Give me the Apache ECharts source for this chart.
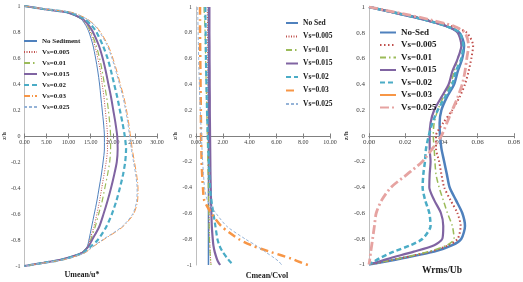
<!DOCTYPE html>
<html><head><meta charset="utf-8">
<script src="https://cdn.jsdelivr.net/npm/echarts@6/dist/echarts.min.js"></script>
<style>html,body{margin:0;padding:0;background:#fff}#c{width:523px;height:282px}</style>
</head><body><div id="c"></div>
<script>
// ---------- DATA ----------
const zLevels = [1, 0.975, 0.95, 0.9, 0.85, 0.8, 0.7, 0.6, 0.5, 0.4, 0.3, 0.2, 0.1, 0, -0.1, -0.2, -0.3, -0.4, -0.5, -0.6, -0.7, -0.8, -0.85, -0.9, -0.95, -0.975, -1];
const yTickLabels = ['-1','-0.8','-0.6','-0.4','-0.2','0','0.2','0.4','0.6','0.8','1'];

// Panel 1: Umean/u*
const p1Names = ['No Sediment','Vs=0.005','Vs=0.01','Vs=0.015','Vs=0.02','Vs=0.03','Vs=0.025'];
const p1Ticks = ['0.00','5.00','10.00','15.00','20.00','25.00','30.00'];
const p1NoSed = [0, 4.5, 9.5, 12.8, 13.9, 14.6, 15.5, 16.1, 16.6, 17.0, 17.3, 17.6, 17.9, 18.1, 18.1, 17.8, 17.4, 16.9, 16.4, 15.8, 15.2, 14.6, 14.2, 12.8, 8.3, 4.3, 0];
const p1Vs005 = [0, 4.5, 9.6, 12.9, 14.1, 14.9, 15.9, 16.6, 17.2, 17.6, 18.0, 18.3, 18.6, 18.8, 18.8, 18.5, 18.0, 17.5, 17.0, 16.4, 15.7, 14.8, 14.3, 12.8, 8.3, 4.3, 0];
const p1Vs01  = [0, 4.5, 9.7, 13.0, 14.3, 15.1, 16.2, 17.0, 17.6, 18.1, 18.6, 19.0, 19.3, 19.5, 19.5, 19.3, 18.8, 18.2, 17.6, 16.8, 16.0, 15.0, 14.4, 12.9, 8.3, 4.3, 0];
const p1Vs015 = [0, 4.6, 9.8, 13.2, 14.6, 15.5, 16.8, 17.7, 18.4, 19.0, 19.6, 20.1, 20.6, 21.0, 21.1, 20.9, 20.3, 19.6, 18.8, 17.9, 16.9, 15.3, 14.5, 13.0, 8.4, 4.3, 0];
const p1Vs02  = [0, 4.7, 10.2, 13.6, 15.2, 16.3, 17.7, 18.8, 19.6, 20.3, 21.0, 21.6, 22.2, 22.7, 23.0, 22.8, 22.3, 21.6, 20.8, 19.8, 18.5, 16.6, 15.0, 13.2, 8.6, 4.4, 0];
const p1Vs03  = [0, 4.9, 10.8, 14.2, 16.0, 17.2, 18.9, 20.0, 20.9, 21.7, 22.5, 23.1, 23.6, 24.0, 24.4, 24.9, 25.4, 25.7, 25.6, 24.7, 22.2, 17.8, 15.6, 13.6, 9.0, 4.6, 0];
const p1Vs025 = [0, 4.9, 10.7, 14.1, 15.9, 17.0, 18.7, 19.8, 20.7, 21.5, 22.3, 22.9, 23.4, 23.8, 24.2, 24.7, 25.2, 25.5, 25.4, 24.5, 22.0, 17.6, 15.5, 13.5, 8.9, 4.6, 0];

// Panel 2: Cmean/Cvol
const p2Names = ['No Sed','Vs=0.005','Vs=0.01','Vs=0.015','Vs=0.02','Vs=0.03','Vs=0.025'];
const p2Ticks = ['0.00','2.00','4.00','6.00','8.00','10.00'];
const p2NoSed = [0.93, 0.93, 0.93, 0.93, 0.93, 0.93, 0.93, 0.93, 0.93, 0.93, 0.93, 0.93, 0.93, 0.93, 0.93, 0.93, 0.93, 0.93, 0.93, 0.93, 0.93, 0.93, 0.93, 0.93, 0.93, 0.93, 0.93];
const p2Vs005 = [0.85, 0.85, 0.85, 0.86, 0.86, 0.86, 0.87, 0.87, 0.88, 0.88, 0.89, 0.89, 0.9, 0.9, 0.91, 0.92, 0.93, 0.94, 0.95, 0.97, 0.99, 1.02, 1.04, 1.06, 1.08, 1.1, 1.12];
const p2Vs01  = [0.6, 0.6, 0.62, 0.64, 0.66, 0.68, 0.7, 0.72, 0.74, 0.76, 0.78, 0.8, 0.82, 0.84, 0.86, 0.88, 0.9, 0.92, 0.94, 0.96, 0.98, 1.0, 1.02, 1.05, 1.08, 1.1, 1.12];
const p2Vs015 = [1.0, 1.0, 1.0, 1.0, 1.0, 1.0, 1.01, 1.01, 1.02, 1.02, 1.03, 1.03, 1.04, 1.05, 1.06, 1.07, 1.08, 1.1, 1.12, 1.15, 1.18, 1.25, 1.3, 1.4, 1.55, 1.65, 1.8];
const p2Vs02  = [0.7, 0.7, 0.7, 0.71, 0.72, 0.72, 0.73, 0.74, 0.76, 0.78, 0.8, 0.82, 0.85, 0.88, 0.92, 0.96, 1.0, 1.05, 1.15, 1.3, 1.45, 1.6, 1.75, 2.0, 2.35, 2.55, 2.8];
const p2Vs03  = [0.3, 0.3, 0.3, 0.3, 0.3, 0.3, 0.31, 0.32, 0.33, 0.34, 0.35, 0.36, 0.37, 0.38, 0.4, 0.42, 0.46, 0.52, 0.62, 1.15, 1.9, 3.2, 4.2, 5.6, 7.1, 7.7, 8.35];
const p2Vs025 = [0.12, 0.12, 0.13, 0.14, 0.15, 0.16, 0.18, 0.2, 0.22, 0.25, 0.28, 0.32, 0.36, 0.4, 0.45, 0.5, 0.56, 0.64, 0.85, 1.5, 2.3, 3.7, 4.5, 5.2, 5.9, 6.2, 6.4];

// Panel 3: Wrms/Ub
const p3Names = ['No-Sed','Vs=0.005','Vs=0.01','Vs=0.015','Vs=0.02','Vs=0.03','Vs=0.025'];
const p3Ticks = ['0.00','0.02','0.04','0.06','0.08'];
const p3NoSed = [0, 0.008, 0.016, 0.031, 0.043, 0.050, 0.0525, 0.0515, 0.049, 0.047, 0.043, 0.040, 0.039, 0.0392, 0.040, 0.0415, 0.043, 0.0445, 0.048, 0.0515, 0.053, 0.051, 0.046, 0.036, 0.019, 0.01, 0];
const p3Vs005 = [0, 0.0085, 0.017, 0.032, 0.046, 0.054, 0.0575, 0.0565, 0.055, 0.053, 0.050, 0.046, 0.041, 0.037, 0.037, 0.0387, 0.040, 0.0415, 0.045, 0.0488, 0.0506, 0.049, 0.044, 0.034, 0.018, 0.009, 0];
const p3Vs01  = [0, 0.008, 0.016, 0.031, 0.043, 0.049, 0.051, 0.049, 0.047, 0.045, 0.041, 0.038, 0.036, 0.0355, 0.036, 0.0364, 0.037, 0.0387, 0.041, 0.0433, 0.046, 0.047, 0.043, 0.033, 0.018, 0.009, 0];
const p3Vs015 = [0, 0.008, 0.016, 0.031, 0.043, 0.049, 0.051, 0.049, 0.046, 0.044, 0.040, 0.036, 0.034, 0.0335, 0.0335, 0.034, 0.0335, 0.0333, 0.036, 0.0397, 0.041, 0.0405, 0.036, 0.0247, 0.012, 0.006, 0];
const p3Vs02  = [0, 0.008, 0.016, 0.031, 0.043, 0.050, 0.052, 0.051, 0.048, 0.046, 0.042, 0.038, 0.035, 0.033, 0.0315, 0.0309, 0.030, 0.0296, 0.031, 0.0333, 0.034, 0.0296, 0.023, 0.0137, 0.006, 0.003, 0];
const p3Vs03  = [];
const p3Vs025 = [0, 0.009, 0.018, 0.034, 0.047, 0.053, 0.055, 0.054, 0.053, 0.0515, 0.049, 0.046, 0.043, 0.040, 0.035, 0.0295, 0.021, 0.0122, 0.007, 0.004, 0.003, 0.002, 0.0015, 0.001, 0.0005, 0.0003, 0];

// ---------- STYLES ----------
const C = {blue:'#4F81BD', red:'#C0504D', green:'#9BBB59', purple:'#8064A2', teal:'#4BACC6', orange:'#F79646', light:'#95B3D7', pink:'#E6A3A1'};
const serif = '"Liberation Serif", "DejaVu Serif", serif';

const panels = [
  {names:p1Names, ticks:p1Ticks, max:30, interval:5, data:[p1NoSed,p1Vs005,p1Vs01,p1Vs015,p1Vs02,p1Vs03,p1Vs025],
   styles:[
     {color:C.blue, width:1, type:'solid'},
     {color:C.red, width:1, type:[1,1.5]},
     {color:C.green, width:1.2, type:[6,3,1.5,3]},
     {color:C.purple, width:2, type:'solid'},
     {color:C.teal, width:2.2, type:[5,3]},
     {color:C.orange, width:1, type:[6,2,1,2]},
     {color:C.light, width:1, type:[3,2]}
   ]},
  {names:p2Names, ticks:p2Ticks, max:10, interval:2, data:[p2NoSed,p2Vs005,p2Vs01,p2Vs015,p2Vs02,p2Vs03,p2Vs025],
   styles:[
     {color:C.blue, width:1.5, type:'solid'},
     {color:C.red, width:1, type:[1,1.5]},
     {color:C.green, width:1.2, type:[6,3,1.5,3]},
     {color:C.purple, width:2.2, type:'solid'},
     {color:C.teal, width:2.2, type:[5,3]},
     {color:C.orange, width:2.5, type:[8,4,2,4]},
     {color:C.light, width:1, type:[3,2]}
   ]},
  {names:p3Names, ticks:p3Ticks, max:0.08, interval:0.02, data:[p3NoSed,p3Vs005,p3Vs01,p3Vs015,p3Vs02,p3Vs03,p3Vs025],
   styles:[
     {color:C.blue, width:2.5, type:'solid'},
     {color:C.red, width:2, type:[1.5,2.5]},
     {color:C.green, width:1.5, type:[6,3,1.5,3]},
     {color:C.purple, width:2.2, type:'solid'},
     {color:C.teal, width:2.5, type:[5,3]},
     {color:C.orange, width:2, type:'solid'},
     {color:C.pink, width:2.8, type:[9,3,2,3]}
   ]}
];

const grids = [
  {left:18, top:6, width:139, height:260},
  {left:196, top:7, width:134, height:258},
  {left:369, top:7, width:146, height:257.5}
];
const tickFont = [6, 6, 7];
const legendCfg = [
  {left:23, top:36.5, itemWidth:13, fontSize:7, lineHeight:9, itemGap:2},
  {left:285, top:18, itemWidth:12, fontSize:7.5, lineHeight:10, itemGap:3.5},
  {left:379, top:27.5, itemWidth:16, fontSize:9, lineHeight:10, itemGap:2.5}
];
const titles = [
  {text:'Umean/u*', x:82, y:275, size:8},
  {text:'Cmean/Cvol', x:267, y:276, size:8},
  {text:'Wrms/Ub', x:442, y:271, size:9.5}
];

const xAxes = [], yAxes = [], series = [], legends = [];
panels.forEach((p, gi) => {
  const labelMap = {};
  p.ticks.forEach((t, i) => { labelMap[(i * p.interval).toFixed(4)] = t; });
  const half = grids[gi].height / 2;
  const common = {
    type:'value', gridIndex:gi, min:0, max:p.max, interval:p.interval,
    splitLine:{show:false},
    axisLine:{onZero:false, lineStyle:{color:'#808080', width:1}},
    axisTick:{show:true, length:2.5, lineStyle:{color:'#808080'}}
  };
  xAxes.push(Object.assign({}, common, {
    position:'bottom', offset:-half,
    axisLabel:{fontSize:tickFont[gi], fontFamily:serif, color:'#404040', margin:3,
      formatter:v => labelMap[v.toFixed(4)] || ''}
  }));
  xAxes.push(Object.assign({}, common, {
    position:'top', offset:-half,
    axisLabel:{show:false}
  }));
  yAxes.push({
    type:'value', gridIndex:gi, min:-1, max:1, interval:0.2,
    splitLine:{show:false},
    axisLine:{show:true, onZero:false, lineStyle:{color:'#BFBFBF'}},
    axisTick:{show:false},
    axisLabel:{fontSize:tickFont[gi], fontFamily:serif, color:'#404040', margin:4,
      formatter:v => yTickLabels[Math.round((v + 1) / 0.2)]},
    name:'z/h', nameLocation:'middle', nameGap: gi === 2 ? 13 : 11,
    nameTextStyle:{fontSize:tickFont[gi], fontFamily:serif, fontWeight:'bold', color:'#404040'}
  });
  const legendData = [];
  p.names.forEach((nm, si) => {
    const full = 'p' + gi + '|' + nm;
    legendData.push(full);
    const st = p.styles[si];
    series.push({
      type:'line', name:full, xAxisIndex:gi * 2, yAxisIndex:gi,
      data:p.data[si].map((v, i) => [v, zLevels[i]]),
      symbol:'none', smooth:0.25, animation:false,
      lineStyle:{color:st.color, width:st.width, type:st.type},
      itemStyle:{color:st.color}
    });
  });
  const lc = legendCfg[gi];
  legends.push({
    orient:'vertical', left:lc.left, top:lc.top, itemWidth:lc.itemWidth, itemHeight:6,
    itemGap:lc.itemGap, padding:0, selectedMode:false, data:legendData,
    itemStyle:{opacity:0},
    formatter:n => n.split('|')[1],
    textStyle:{fontSize:lc.fontSize, lineHeight:lc.lineHeight, fontFamily:serif, fontWeight:'bold', color:'#1a1a1a'}
  });
});

const chart = echarts.init(document.getElementById('c'), null, {renderer:'canvas'});
chart.setOption({
  backgroundColor:'#fff',
  animation:false,
  grid:grids,
  xAxis:xAxes,
  yAxis:yAxes,
  legend:legends,
  series:series,
  graphic:titles.map(t => ({
    type:'text', x:t.x, y:t.y,
    style:{text:t.text, font:'bold ' + t.size + 'px ' + serif, fill:'#1a1a1a', textAlign:'center', textVerticalAlign:'middle'}
  }))
});
</script></body></html>
